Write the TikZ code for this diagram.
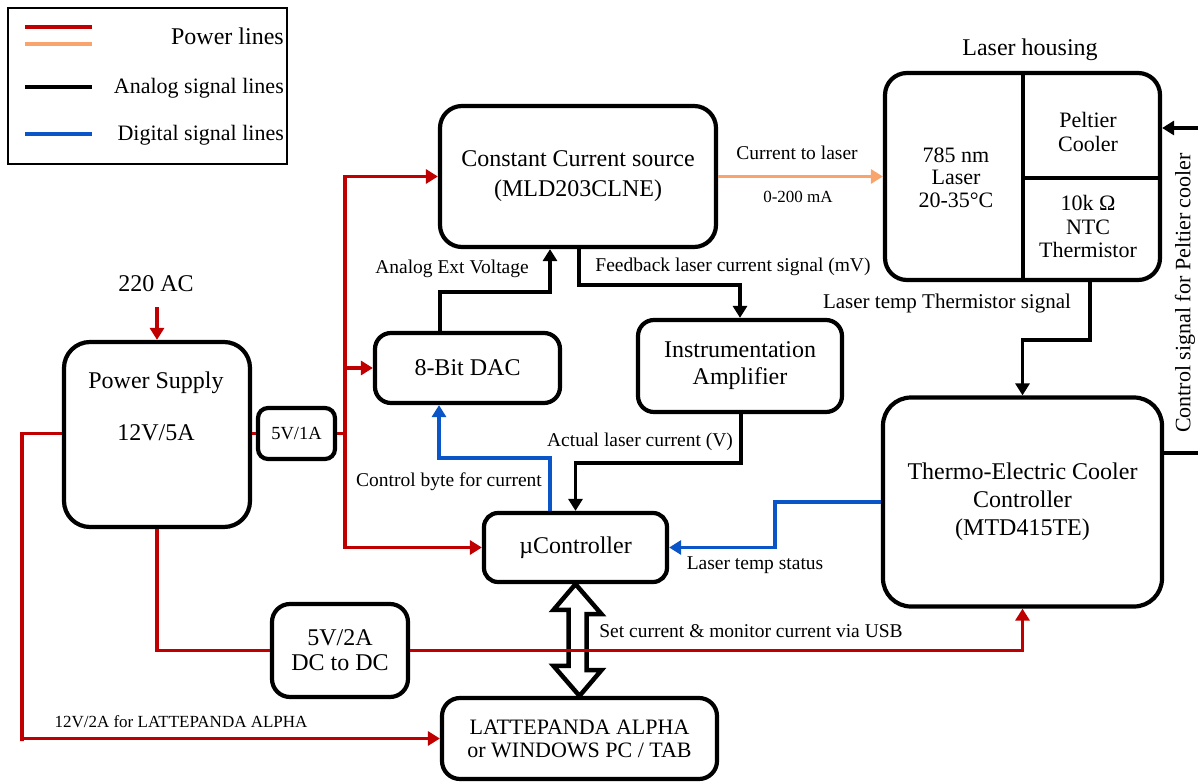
\documentclass[tikz,border=0pt]{standalone}
\usepackage{fontspec}
\setmainfont{Liberation Serif}
\newfontfamily\tnr{Liberation Serif}
\usetikzlibrary{arrows.meta}
\definecolor{pred}{HTML}{C00000}
\definecolor{porange}{HTML}{F8A46C}
\definecolor{dblue}{HTML}{0A56C8}
\tikzset{
  bx/.style={draw, line width=4.2pt, rounded corners=#1, inner sep=0pt, fill=white, align=center},
  bx/.default=22pt,
  bt/.style={font=\tnr\fontsize{24}{#1}\selectfont},
  bt/.default=28,
  lb/.style={font=\tnr\fontsize{19.5}{22}\selectfont, inner sep=0pt},
  pw/.style={line width=3.8pt, draw=pred},
  an/.style={line width=3.8pt, draw=black},
  dg/.style={line width=3.8pt, draw=dblue},
  og/.style={line width=3.8pt, draw=porange},
  lg/.style={line width=4pt},
}
\begin{document}
\begin{tikzpicture}[x=1pt,y=-1pt,>={Triangle[length=12pt,width=14pt]}]
\useasboundingbox (0,0) rectangle (1198,783);

% legend
\node[draw, line width=2pt, minimum width=279pt, minimum height=156pt, inner sep=0pt] (leg) at (147.5,86.5) {};
\draw[lg, pred] (25,27) -- (92,27);
\draw[lg, porange] (25,44) -- (92,44);
\draw[lg, black] (25,87) -- (92,87);
\draw[lg, dblue] (25,134) -- (92,134);
\node[anchor=east, inner sep=0pt, font=\tnr\fontsize{24}{28}\selectfont] (lt1) at (284,36) {Power lines};
\node[anchor=east, inner sep=0pt, font=\tnr\fontsize{22}{26}\selectfont] (lt2) at (284,88) {Analog signal lines};
\node[anchor=east, inner sep=0pt, font=\tnr\fontsize{22}{26}\selectfont] (lt3) at (284,135) {Digital signal lines};

% boxes
\node[bx, bt=30, minimum width=276pt, minimum height=141pt] (ccs) at (578,176.5) {Constant Current source\\(MLD203CLNE)};
\node[bx, minimum width=275pt, minimum height=207pt] (lh) at (1022.5,176.5) {};
\node[bx=16pt, bt, minimum width=185pt, minimum height=70pt] (dac) at (467.5,368) {8-Bit DAC};
\node[bx=16pt, bt=27, minimum width=204pt, minimum height=92pt] (amp) at (740,366) {Instrumentation\\Amplifier};
\node[bx=26pt, minimum width=186pt, minimum height=185pt] (ps) at (157,434.5) {};
\node[bx=10pt, font=\tnr\fontsize{18.5}{22}\selectfont, minimum width=77pt, minimum height=51pt] (v51) at (296.5,433.5) {5V/1A};
\node[bx=14pt, bt, minimum width=183pt, minimum height=69pt] (uc) at (575.5,547.5) {µController};
\node[bx=28pt, bt=28, minimum width=279pt, minimum height=209pt] (tec) at (1022.5,502) {Thermo-Electric Cooler\\Controller\\(MTD415TE)};
\node[bx=18pt, bt=25, minimum width=136pt, minimum height=93pt] (dc) at (340,650.5) {5V/2A\\DC to DC};
\node[bx=18pt, font=\tnr\fontsize{22}{23}\selectfont, minimum width=275pt, minimum height=81pt] (lp) at (579.5,738.5) {LATTEPANDA ALPHA\\or WINDOWS PC / TAB};

% power supply text
\node[bt, inner sep=0pt] (pst1) at (156,383) {Power Supply};
\node[bt, inner sep=0pt] (pst2) at (156,433) {12V/5A};
\node[bt, inner sep=0pt] (ac) at (156,284) {220 AC};

% laser housing internals
\node[bt, inner sep=0pt] (lht) at (1030,50) {Laser housing};
\coordinate (xd) at (1023,178);
\draw[line width=4pt] (xd |- lh.north) -- (xd |- lh.south);
\draw[line width=4pt] (xd) -- (xd -| lh.east);
\node[font=\tnr\fontsize{22}{22.5}\selectfont, align=center, inner sep=0pt] (las) at (956,177.5) {785 nm\\Laser\\20-35°C};
\node[font=\tnr\fontsize{22}{24}\selectfont, align=center, inner sep=0pt] (pel) at (1088,132) {Peltier\\Cooler};
\node[font=\tnr\fontsize{22}{23.5}\selectfont, align=center, inner sep=0pt] (thm) at (1088,226.5) {10k Ω\\NTC\\Thermistor};

% USB double arrow
\draw[line width=4.5pt, line join=miter, fill=white] (uc.south) -- ++(26,30) -- ++(-15,0) -- ++(0,56) -- ++(15,0) -- (lp.north) -- ++(-26,-30) -- ++(15,0) -- ++(0,-56) -- ++(-15,0) -- cycle;

% power connections
\coordinate (acin) at (157,307);
\draw[pw,->] (acin) -- (ps.north);
\draw[pw] (ps.east |- v51.west) -- (v51.west);
\coordinate (j) at (345,433.5);
\draw[pw] (v51.east) -- (j);
\draw[pw,->] (j) |- (ccs.west);
\draw[pw,->] (j) |- (uc.west);
\draw[pw,->] (j |- dac.west) -- (dac.west);
\coordinate (l1) at (22,741);
\draw[pw,->] (ps.west |- j) -| (l1) |- (lp.west);
\draw[pw] (ps.south) |- (dc.west);
\draw[pw,->] (dc.east) -| (tec.south);

% orange
\draw[og,->] (ccs.east) -- (lh.west);

% analog
\coordinate (d1) at (440,292);
\coordinate (d2) at (550,292);
\draw[an,->] (d1 |- dac.north) -- (d1) -- (d2) -- (d2 |- ccs.south);
\coordinate (f1) at (579,285);
\draw[an,->] (f1 |- ccs.south) -- (f1) -| (amp.north);
\coordinate (a1) at (741,463);
\draw[an,->] (a1 |- amp.south) -- (a1) -| (uc.north);
\coordinate (t1) at (1090,340);
\draw[an,->] (t1 |- lh.south) -- (t1) -| (tec.north);
\coordinate (p1) at (1203,453);
\coordinate (p2) at (1203,128);
\draw[an,->] (p1 -| tec.east) -- (p1) -- (p2) -- (p2 -| lh.east);

% digital
\coordinate (b1) at (550,458);
\coordinate (b2) at (439,458);
\draw[dg,->] (b1 |- uc.north) -- (b1) -- (b2) -- (b2 |- dac.south);
\coordinate (b3) at (775,502);
\draw[dg,->] (b3 -| tec.west) -- (b3) |- (uc.east);

% labels
\node[lb] (l_ctl) at (797,153) {Current to laser};
\node[lb, font=\tnr\fontsize{17}{20}\selectfont] (l_ma) at (798,197) {0-200 mA};
\node[lb] (l_aev) at (452,269) {Analog Ext Voltage};
\node[lb] (l_fb) at (733,267) {Feedback laser current signal (mV)};
\node[lb, font=\tnr\fontsize{21}{24}\selectfont] (l_lts) at (947,303) {Laser temp Thermistor signal};
\node[lb] (l_alc) at (640,442) {Actual laser current (V)};
\node[lb] (l_cb) at (449,482) {Control byte for current};
\node[lb] (l_ltst) at (755,565) {Laser temp status};
\node[lb] (l_usb) at (751,631) {Set current \& monitor current via USB};
\node[lb, font=\tnr\fontsize{17}{20}\selectfont] (l_12v) at (181,722) {12V/2A for LATTEPANDA ALPHA};
\node[lb, font=\tnr\fontsize{22}{24}\selectfont, rotate=90] (l_pc) at (1185,293) {Control signal for Peltier cooler};
\end{tikzpicture}
\end{document}
